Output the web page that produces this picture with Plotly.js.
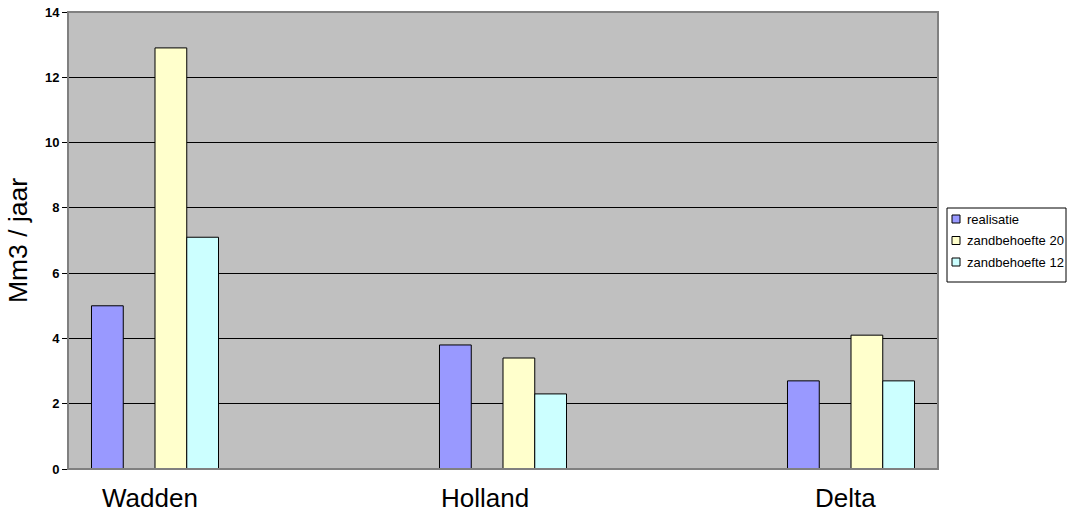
<!DOCTYPE html>
<html>
<head>
<meta charset="utf-8">
<script src="https://cdn.plot.ly/plotly-3.0.1.min.js"></script>
<style>html,body{margin:0;padding:0;background:#fff;}#chart{width:1070px;height:514px;}</style>
</head>
<body>
<div id="chart"></div>
<script>
const categories = ["Wadden", "Holland", "Delta"];
const realisatie = [5.0, 3.8, 2.7];
const leeg = [null, null, null];
const zandbehoefte20 = [12.9, 3.4, 4.1];
const zandbehoefte12 = [7.1, 2.3, 2.7];
const seriesNames = ["realisatie", "", "zandbehoefte 20", "zandbehoefte 12"];
const seriesColors = ["#9999FF", "#000000", "#FFFFCC", "#CCFFFF"];
const yTicks = [0, 2, 4, 6, 8, 10, 12, 14];
const labelShift = [-5, -18, -6];

const font = "Arial, 'Liberation Sans', sans-serif";
const line = {color: "#000", width: 1};
const seriesValues = [realisatie, leeg, zandbehoefte20, zandbehoefte12];
const traces = seriesValues.map((v, i) => ({
  type: "bar", name: seriesNames[i], x: categories, y: v, showlegend: false,
  marker: {color: seriesColors[i], line: line}
}));

const W = 1070, H = 514;
const annotations = categories.map((c, i) => ({
  x: c, xref: "x", y: 0, yref: "paper", yanchor: "top", xanchor: "center",
  yshift: -13, xshift: labelShift[i], showarrow: false, borderpad: 0,
  text: c, font: {family: font, size: 26, color: "#000"}
}));

// custom legend (box, colour squares and real-text labels)
const shapes = [{type: "rect", xref: "paper", yref: "paper", x0: 0, x1: 1, y0: 0, y1: 1, line: {color: "#808080", width: 2}, layer: "above"}];
const legendItems = [0, 2, 3];
const lx0 = 947, lx1 = 1066, ly0 = 208, ly1 = 282;
const toX = px => (px - 68) / (938 - 68);
const toY = py => (469 - py) / (469 - 12);
shapes.push({type: "rect", xref: "paper", yref: "paper", x0: toX(lx0), x1: toX(lx1), y0: toY(ly1), y1: toY(ly0),
  line: {color: "#000", width: 1}, fillcolor: "#fff", layer: "above"});
legendItems.forEach((s, k) => {
  const cy = 219 + k * 21.5;
  shapes.push({type: "rect", xref: "paper", yref: "paper", x0: toX(952), x1: toX(960), y0: toY(cy + 4), y1: toY(cy - 4),
    line: {color: "#000", width: 1}, fillcolor: seriesColors[s], layer: "above"});
  annotations.push({xref: "paper", yref: "paper", x: toX(965), y: toY(cy), xanchor: "left", yanchor: "middle",
    showarrow: false, text: seriesNames[s], font: {family: font, size: 13, color: "#000"}});
});

const layout = {
  width: W, height: H,
  margin: {l: 68, r: 132, t: 12, b: 45, pad: 0},
  paper_bgcolor: "#fff", plot_bgcolor: "#C0C0C0",
  barmode: "group", bargap: 0.635, bargroupgap: 0,
  showlegend: false,
  xaxis: {type: "category", range: [-0.25, 2.25], showticklabels: false, ticks: "", showgrid: false, zeroline: false,
    showline: false, fixedrange: true},
  yaxis: {range: [0, 14], tickvals: yTicks, ticks: "outside", ticklen: 5, tickcolor: "#000", tickwidth: 1,
    showgrid: true, gridcolor: "#000", gridwidth: 1, zeroline: false,
    showline: true, linecolor: "#000", linewidth: 1,
    tickfont: {family: font, size: 13, color: "#000", weight: "bold"},
    title: {text: "Mm3 / jaar", font: {family: font, size: 26.5, color: "#000"}, standoff: 9}},
  shapes: shapes,
  annotations: annotations
};

Plotly.newPlot("chart", traces, layout, {staticPlot: true, displayModeBar: false});
</script>
</body>
</html>
